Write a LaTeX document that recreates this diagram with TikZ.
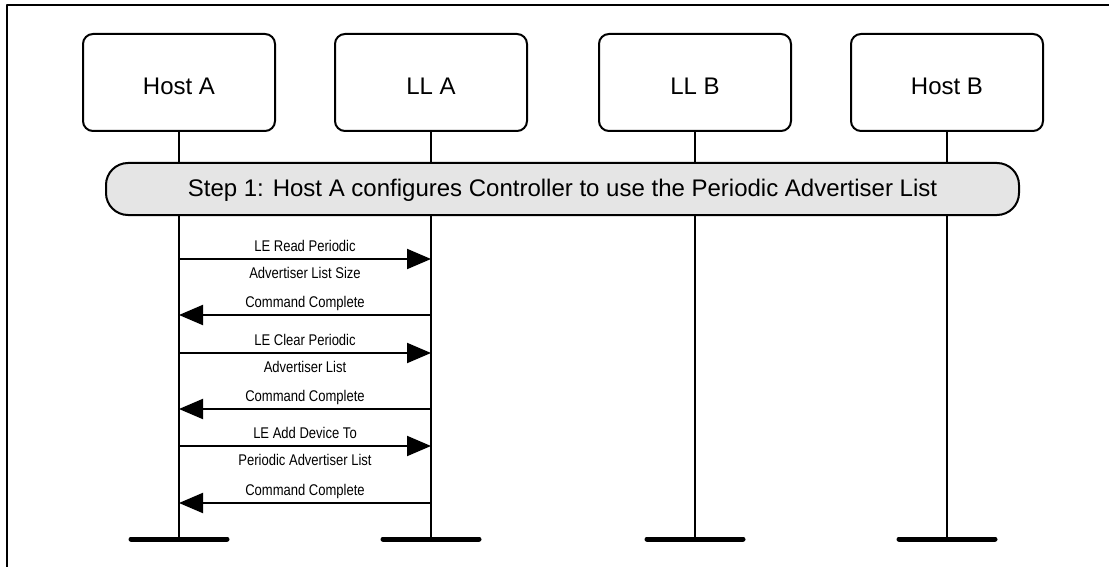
\documentclass[tikz,border=0pt]{standalone}
\usepackage{fontspec}
\setmainfont{Liberation Sans}
\newfontfamily\narrowsf[FakeStretch=0.84]{Liberation Sans}
\usetikzlibrary{arrows.meta}
\begin{document}
\begin{tikzpicture}[x=1pt, y=-1pt, line join = round, >={Triangle[length=24pt,width=20pt]}, font=\fontsize{24}{28}\selectfont]
    \tikzset{ent/.style={draw=black,line width=2pt,rectangle,rounded corners=10pt,minimum width=192pt,minimum height=97pt,inner sep=0pt,text height=23.6pt,text depth=0pt},
        msg/.style={->,line width=2pt},
        lbl/.style={font=\narrowsf\fontsize{15.5}{18}\selectfont,inner sep=0pt,anchor=base}}
    \useasboundingbox (0,0) rectangle (1109,567);
    \draw[line width=2pt] (7,567)--(7,5)--(1109,5);

    \path (179,82.5)node[ent](hostA){Host A} (431,82.5)node[ent](llA){LL A}
          (695,82.5)node[ent](llB){LL B} (947,82.5)node[ent](hostB){Host B};
    \coordinate (bot) at (0,539);
    \foreach \x in {hostA,llA,llB,hostB}{
        \coordinate (\x bar) at (\x |- bot);
        \draw[line width=2pt] (\x.south)--(\x bar);
        \draw[line width=5pt,line cap=round] ([xshift=-48pt]\x bar)--([xshift=48pt]\x bar);	}

    \node[draw,line width=2pt,fill=black!10,rounded corners=22pt,minimum width=913pt,minimum height=52pt,text height=15.4pt,text depth=0pt](step) at (562.5,189)
        {Step 1: Host A configures Controller to use the Periodic Advertiser List};

    % messages between Host A and LL A
    \foreach \y/\a/\b/\up/\dn in {259/hostA/llA/LE Read Periodic/Advertiser List Size,
            315/llA/hostA/Command Complete/,
            353/hostA/llA/LE Clear Periodic/Advertiser List,
            409/llA/hostA/Command Complete/,
            446/hostA/llA/LE Add Device To/Periodic Advertiser List,
            503/llA/hostA/Command Complete/}{
        \coordinate (m\y) at (0,\y);
        \draw[msg] (\a |- m\y)--(\b |- m\y)
            node[lbl,midway,yshift=7.5pt]{\up} node[lbl,midway,yshift=-19pt]{\dn};	}
\end{tikzpicture}
\end{document}
